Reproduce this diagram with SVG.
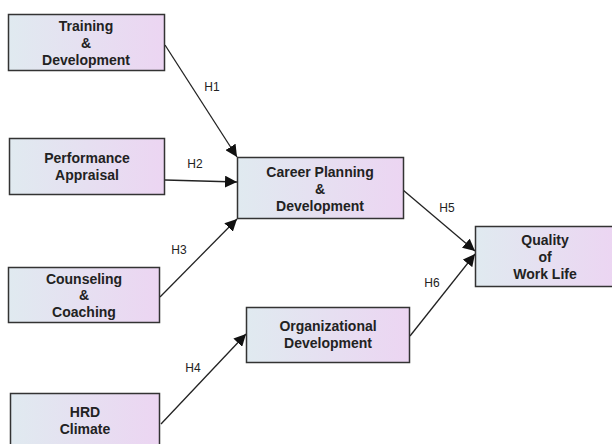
<svg xmlns="http://www.w3.org/2000/svg" width="612" height="444" viewBox="0 0 612 444">
<defs>
<linearGradient id="g" x1="0" y1="0" x2="1" y2="0">
<stop offset="0" stop-color="#e0eaf0"/>
<stop offset="1" stop-color="#ecd5f2"/>
</linearGradient>
<marker id="a" viewBox="0 0 10 10" refX="10" refY="5" markerWidth="12" markerHeight="12" markerUnits="userSpaceOnUse" orient="auto">
<path d="M0,0 L10,5 L0,10 z" fill="#111"/>
</marker>
</defs>
<style>
.b{fill:url(#g);stroke:#333;stroke-width:1.5}
.t{font-family:"Liberation Sans",Arial,sans-serif;font-weight:bold;font-size:14px;fill:#222;text-anchor:middle}
.l{font-family:"Liberation Sans",Arial,sans-serif;font-size:12px;fill:#222;text-anchor:middle}
.c{stroke:#222;stroke-width:1.3;fill:none;marker-end:url(#a)}
</style>
<rect width="612" height="444" fill="#fff"/>
<g id="connectors">
<line class="c" x1="165" y1="45" x2="237" y2="157"/>
<line class="c" x1="165" y1="180" x2="237" y2="182"/>
<line class="c" x1="160" y1="297" x2="237" y2="219"/>
<line class="c" x1="161" y1="424" x2="246" y2="334"/>
<line class="c" x1="403" y1="190" x2="475" y2="251"/>
<line class="c" x1="410" y1="336" x2="475" y2="254"/>
<text class="l" x="212" y="91">H1</text>
<text class="l" x="195" y="168">H2</text>
<text class="l" x="179" y="254">H3</text>
<text class="l" x="193" y="372">H4</text>
<text class="l" x="447" y="212">H5</text>
<text class="l" x="432" y="287">H6</text>
</g>
<g id="training">
<rect class="b" x="8.5" y="14.5" width="156" height="56"/>
<text class="t" x="86" y="31">Training</text>
<text class="t" x="86" y="48">&amp;</text>
<text class="t" x="86" y="65">Development</text>
</g>
<g id="performance">
<rect class="b" x="9.5" y="138.5" width="155" height="56"/>
<text class="t" x="87" y="163">Performance</text>
<text class="t" x="87" y="180">Appraisal</text>
</g>
<g id="counseling">
<rect class="b" x="8.5" y="267.5" width="151" height="55"/>
<text class="t" x="84" y="284">Counseling</text>
<text class="t" x="84" y="300">&amp;</text>
<text class="t" x="84" y="317">Coaching</text>
</g>
<g id="hrd">
<rect class="b" x="10.5" y="393.5" width="149" height="56"/>
<text class="t" x="85" y="417">HRD</text>
<text class="t" x="85" y="434">Climate</text>
</g>
<g id="career">
<rect class="b" x="237.5" y="157.5" width="166" height="61"/>
<text class="t" x="320" y="177">Career Planning</text>
<text class="t" x="320" y="194">&amp;</text>
<text class="t" x="320" y="211">Development</text>
</g>
<g id="orgdev">
<rect class="b" x="246.5" y="307.5" width="163" height="55"/>
<text class="t" x="328" y="331">Organizational</text>
<text class="t" x="328" y="348">Development</text>
</g>
<g id="qwl">
<rect class="b" x="475.5" y="226.5" width="140" height="60"/>
<text class="t" x="545" y="245">Quality</text>
<text class="t" x="545" y="262">of</text>
<text class="t" x="545" y="279">Work Life</text>
</g>
</svg>
